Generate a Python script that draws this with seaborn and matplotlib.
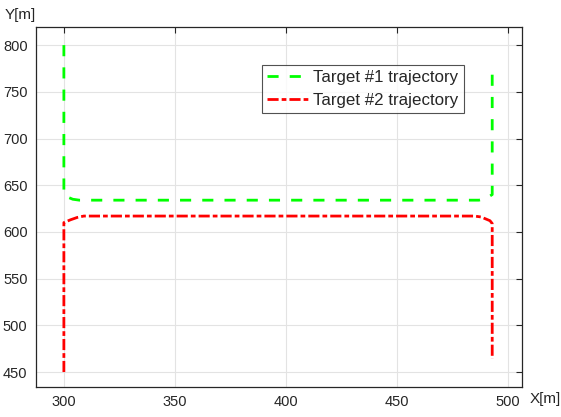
import matplotlib
matplotlib.use("Agg")
import matplotlib.pyplot as plt
import seaborn as sns
import pandas as pd

# Trajectory samples (metres)
t1_x = [300, 300, 300.5, 302, 304, 307, 487, 489, 491, 493, 493]
t1_y = [800, 641, 639, 637, 635, 634, 634, 635, 637, 640, 779]
t2_x = [300, 300, 301, 303, 306, 309, 485, 488, 490, 492, 493, 493]
t2_y = [450, 610, 611, 613, 615.5, 617, 617, 616, 614, 612, 609, 464]

x_ticks = [300, 350, 400, 450, 500]
y_ticks = [450, 500, 550, 600, 650, 700, 750, 800]

sns.set_style("white")
plt.rcParams["font.family"] = ["Liberation Sans", "DejaVu Sans"]

fig = plt.figure(figsize=(5.61, 4.17), dpi=100)
ax = fig.add_axes([0.064, 0.072, 0.866, 0.863])

df1 = pd.DataFrame({"x": t1_x, "y": t1_y})
df2 = pd.DataFrame({"x": t2_x, "y": t2_y})

sns.lineplot(data=df1, x="x", y="y", sort=False, estimator=None, ax=ax,
             color="#00ff00", linewidth=2.0, linestyle=(0, (4, 4)),
             label="Target #1 trajectory")
sns.lineplot(data=df2, x="x", y="y", sort=False, estimator=None, ax=ax,
             color="#ff0000", linewidth=2.0, linestyle=(0, (4, 1.1, 1.7, 1.1)),
             label="Target #2 trajectory")

ax.set_xlim(287.4, 506.3)
ax.set_ylim(434, 819.3)
ax.set_xticks(x_ticks)
ax.set_yticks(y_ticks)
ax.set_xlabel("")
ax.set_ylabel("")
ax.grid(True, color="#e3e3e3", linewidth=0.8)
ax.set_axisbelow(True)
ax.tick_params(direction="in", length=4, width=0.8, colors="#262626",
               labelsize=10.5, top=True, right=True, pad=6)
for s in ax.spines.values():
    s.set_visible(True)
    s.set_color("#262626")
    s.set_linewidth(0.9)

fig.text(0.009, 0.965, "Y[m]", fontsize=11, color="#262626", va="center", ha="left")
fig.text(0.944, 0.042, "X[m]", fontsize=11, color="#262626", va="center", ha="left")

leg = ax.legend(loc="upper left", bbox_to_anchor=(0.465, 0.895), fontsize=12.2,
                frameon=True, fancybox=False, edgecolor="#262626",
                handlelength=2.5, handletextpad=0.25, borderpad=0.3,
                labelspacing=0.45, borderaxespad=0)
leg.get_frame().set_linewidth(0.8)

fig.savefig("out.png", dpi=100)
